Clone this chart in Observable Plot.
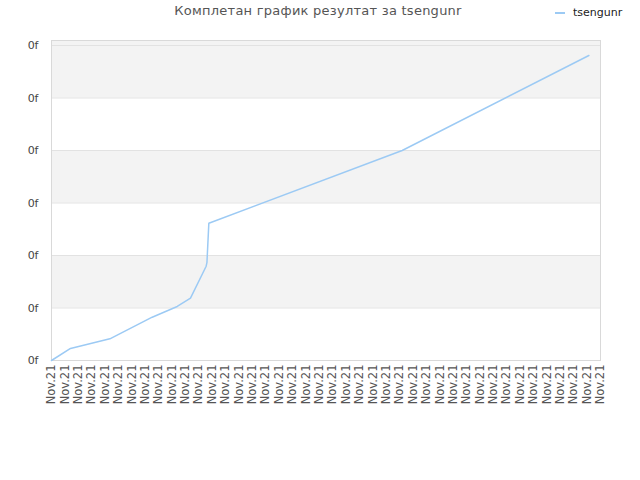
<!DOCTYPE html>
<html>
<head>
<meta charset="utf-8">
<script src="https://cdn.jsdelivr.net/npm/d3@7"></script>
<script src="https://cdn.jsdelivr.net/npm/@observablehq/plot@0.6"></script>
<style>
  html, body { margin: 0; padding: 0; background: #fff; }
  #wrap { position: relative; width: 640px; height: 480px; overflow: hidden; font-family: "DejaVu Sans", sans-serif; }
  #title { position: absolute; left: 0; width: 636px; top: 3px; text-align: center; font-size: 13px; line-height: 16px; color: #555; letter-spacing: 0.25px; }
  #legend { position: absolute; left: 555px; top: 6px; font-size: 11px; line-height: 14px; color: #222; display: flex; align-items: center; white-space: nowrap; }
  #legend .sw { display: inline-block; width: 10px; height: 2px; background: #9ccaf4; margin-right: 8px; }
  #chart { position: absolute; left: 0; top: 0; }
</style>
</head>
<body>
<div id="wrap">
  <div id="chart"></div>
  <div id="title">Комплетан график резултат за tsengunr</div>
  <div id="legend"><span class="sw"></span>tsengunr</div>
</div>
<script>
// Series name
const seriesName = "tsengunr";
// X positions (in units of the x tick slots) and values of the line vertices
const pointX = [0, 1.42, 4.36, 7.52, 9.39, 10.38, 11.55, 11.61, 11.75, 26.19, 40.13];
const pointY = [0, 0.229, 0.413, 0.825, 1.029, 1.187, 1.796, 1.87, 2.615, 4.0, 5.81];
// X tick labels
const xTickLabels = [
  "Nov.21","Nov.21","Nov.21","Nov.21","Nov.21","Nov.21","Nov.21","Nov.21","Nov.21","Nov.21",
  "Nov.21","Nov.21","Nov.21","Nov.21","Nov.21","Nov.21","Nov.21","Nov.21","Nov.21","Nov.21",
  "Nov.21","Nov.21","Nov.21","Nov.21","Nov.21","Nov.21","Nov.21","Nov.21","Nov.21","Nov.21",
  "Nov.21","Nov.21","Nov.21","Nov.21","Nov.21","Nov.21","Nov.21","Nov.21","Nov.21","Nov.21",
  "Nov.21","Nov.21"
];
// Y ticks and their labels
const yTicks = [0, 1, 2, 3, 4, 5, 6];
const yTickLabels = ["0f", "0f", "0f", "0f", "0f", "0f", "0f"];
const yMax = 6.095;

const data = pointX.map((x, i) => ({x, y: pointY[i], series: seriesName}));
const xTicks = xTickLabels.map((_, i) => i);
const xMax = xTickLabels.length - 1;

// alternating shaded bands between y ticks (odd bands gray, top band up to frame)
const bands = [];
for (let i = 1; i < yTicks.length; i += 2) {
  bands.push({y1: yTicks[i], y2: i + 1 < yTicks.length ? yTicks[i + 1] : yMax});
}
if (yTicks.length % 2 === 1) bands.push({y1: yTicks[yTicks.length - 1], y2: yMax});

const chart = Plot.plot({
  width: 640,
  height: 480,
  marginTop: 40,
  marginBottom: 120,
  marginLeft: 51,
  marginRight: 40,
  style: {fontFamily: "DejaVu Sans, sans-serif", color: "#444", background: "transparent"},
  x: {domain: [0, xMax]},
  y: {domain: [0, yMax]},
  marks: [
    Plot.rect(bands, {x1: () => 0, x2: () => xMax, y1: "y1", y2: "y2", fill: "#f3f3f3"}),
    Plot.ruleY(yTicks, {stroke: "#e2e2e2", strokeWidth: 1}),
    Plot.frame({stroke: "#d9d9d9"}),
    Plot.axisY({ticks: yTicks, tickFormat: (d, i) => yTickLabels[i], tickSize: 0, tickPadding: 13, fontSize: 11, label: null}),
    Plot.axisX({ticks: xTicks, tickFormat: (d, i) => xTickLabels[i], tickRotate: -90, tickSize: 0, tickPadding: 4, fontSize: 11.5, fill: "#555", label: null}),
    Plot.line(data, {x: "x", y: "y", stroke: "#9ccaf4", strokeWidth: 1.5})
  ]
});
document.getElementById("chart").appendChild(chart);
</script>
</body>
</html>
